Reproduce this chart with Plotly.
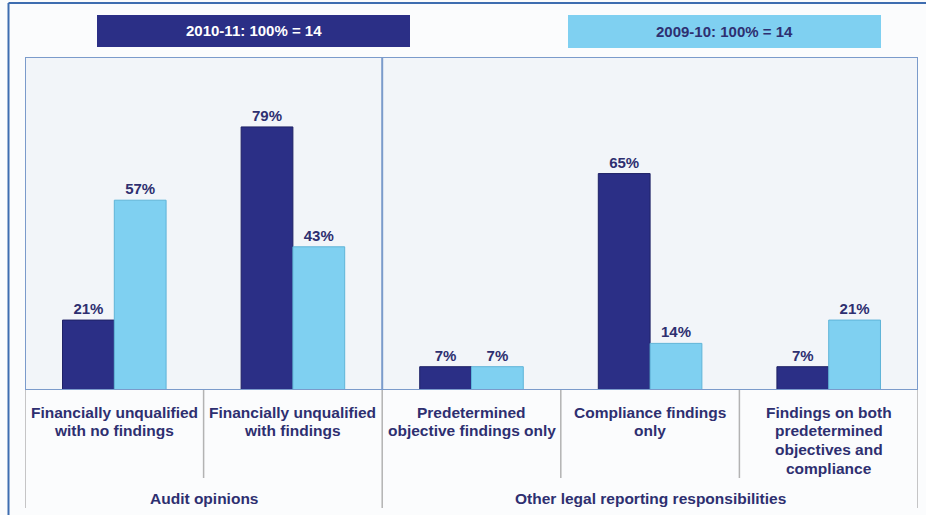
import plotly.graph_objects as go

categories = [
    "Financially unqualified<br>with no findings",
    "Financially unqualified<br>with findings",
    "Predetermined<br>objective findings only",
    "Compliance findings<br>only",
    "Findings on both<br>predetermined<br>objectives and<br>compliance",
]
groups = ["Audit opinions", "Other legal reporting responsibilities"]
series_names = ["2010-11: 100% = 14", "2009-10: 100% = 14"]
values_2010_11 = [21, 79, 7, 65, 7]
values_2009_10 = [57, 43, 7, 14, 21]

DARK = "#2b2f86"
LIGHT = "#7fd0f1"
TEXT = "#2e2f70"
FONT = "Liberation Sans"

# plot-area geometry in pixels (926 x 515 page)
W, H = 926, 515
L, R, T, B = 25, 8, 57, 125
PW, PH = W - L - R, H - T - B


def px(x):
    return (x - L) / PW


def py(y):
    return (H - B - y) / PH


xs = list(range(len(categories)))

fig = go.Figure()
for name, vals, col, edge in [
    (series_names[0], values_2010_11, DARK, "#1f2266"),
    (series_names[1], values_2009_10, LIGHT, "#5fb4d8"),
]:
    fig.add_trace(go.Bar(
        x=xs, y=vals, name=name,
        marker=dict(color=col, line=dict(color=edge, width=1)),
        texttemplate="<b>%{y}%</b>", textposition="outside",
        textfont=dict(family=FONT, size=15, color=TEXT),
        cliponaxis=False, showlegend=False,
    ))

shapes = []
# outer frame
shapes.append(dict(type="line", xref="paper", yref="paper", x0=px(8.5), x1=px(926), y0=py(3), y1=py(3),
                   line=dict(color="#3e6db0", width=2)))
shapes.append(dict(type="line", xref="paper", yref="paper", x0=px(8.5), x1=px(8.5), y0=py(3), y1=py(515),
                   line=dict(color="#3e6db0", width=2)))
# inner plot box
shapes.append(dict(type="rect", xref="x", yref="y", x0=-0.5, x1=4.5, y0=0, y1=100,
                   line=dict(color="#7b9bcb", width=2), layer="above"))
# divider between the two groups inside the box
shapes.append(dict(type="line", xref="x", yref="y", x0=1.5, x1=1.5, y0=0, y1=100,
                   line=dict(color="#7b9bcb", width=2), layer="above"))
# category separators below the axis
for xv in [0.5, 2.5, 3.5]:
    shapes.append(dict(type="line", xref="x", yref="paper", x0=xv, x1=xv, y0=0, y1=py(478),
                       line=dict(color="#b3b3b3", width=1.5)))
for xv in [-0.5, 1.5, 4.5]:
    shapes.append(dict(type="line", xref="x", yref="paper", x0=xv, x1=xv, y0=0, y1=py(508),
                       line=dict(color="#b3b3b3", width=1.5)))
# series header boxes
shapes.append(dict(type="rect", xref="paper", yref="paper", x0=px(97), x1=px(410), y0=py(47), y1=py(15),
                   fillcolor=DARK, line=dict(width=0)))
shapes.append(dict(type="rect", xref="paper", yref="paper", x0=px(568), x1=px(881), y0=py(48), y1=py(15),
                   fillcolor=LIGHT, line=dict(width=0)))

annotations = [
    dict(text="<b>%s</b>" % series_names[0], xref="paper", yref="paper", x=px(253.5), y=py(31),
         xanchor="center", yanchor="middle",
         showarrow=False, font=dict(family=FONT, size=15, color="white")),
    dict(text="<b>%s</b>" % series_names[1], xref="paper", yref="paper", x=px(724.5), y=py(31.5),
         xanchor="center", yanchor="middle",
         showarrow=False, font=dict(family=FONT, size=15, color=TEXT)),
]
# category labels, one annotation per line for tight line spacing
for i, c in enumerate(categories):
    for k, line in enumerate(c.split("<br>")):
        annotations.append(dict(text="<b>%s</b>" % line, xref="x", yref="paper", x=i,
                                y=py(412 + 18.8 * k), xanchor="center", yanchor="middle",
                                showarrow=False, font=dict(family=FONT, size=15.5, color=TEXT)))
annotations.append(dict(text="<b>%s</b>" % groups[0], xref="x", yref="paper", x=0.5, y=py(498),
                        xanchor="center", yanchor="middle",
                        showarrow=False, font=dict(family=FONT, size=15.5, color=TEXT)))
annotations.append(dict(text="<b>%s</b>" % groups[1], xref="x", yref="paper", x=3, y=py(498),
                        xanchor="center", yanchor="middle",
                        showarrow=False, font=dict(family=FONT, size=15.5, color=TEXT)))

fig.update_layout(
    width=W, height=H,
    margin=dict(l=L, r=R, t=T, b=B),
    barmode="group", bargap=0.42, bargroupgap=0,
    paper_bgcolor="#fbfcfd", plot_bgcolor="#f2f5f9",
    xaxis=dict(range=[-0.5, 4.5], showticklabels=False, showgrid=False, zeroline=False, ticks=""),
    yaxis=dict(range=[0, 100], showticklabels=False, showgrid=False, zeroline=False, ticks=""),
    shapes=shapes, annotations=annotations,
    font=dict(family=FONT, color=TEXT),
)

fig.write_html("out.html")
